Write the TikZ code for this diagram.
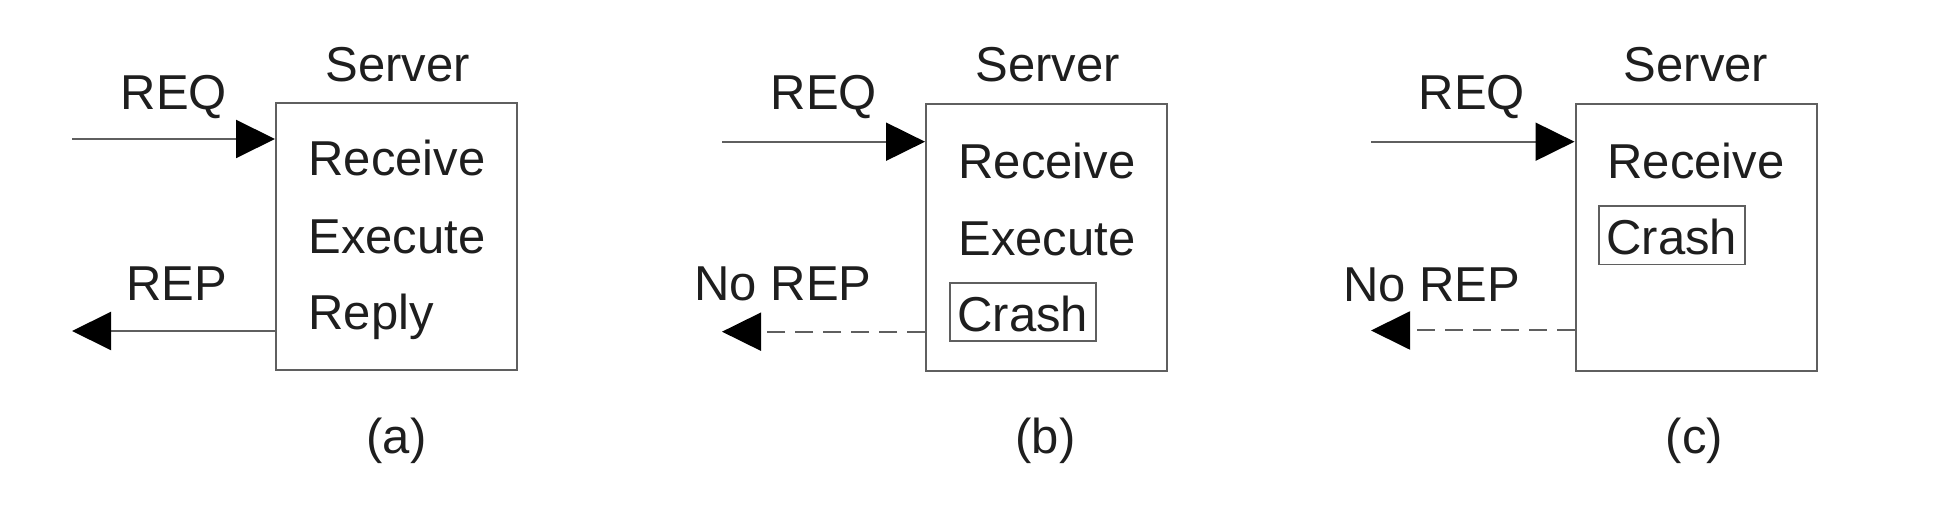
\documentclass[tikz,border=0pt]{standalone}
\usepackage{fontspec}
\setmainfont{Liberation Sans}
\usetikzlibrary{arrows.meta}
\definecolor{linegray}{RGB}{95,95,95}
\definecolor{ink}{RGB}{30,30,30}
\begin{document}
\begin{tikzpicture}[x=0.5pt,y=-0.5pt,
  lbl/.style={font=\fontsize{24.5}{29}\selectfont, text=ink, inner sep=0pt, anchor=base},
  item/.style={lbl, anchor=base west},
  srvbox/.style={draw=linegray, line width=1pt, minimum width=120.5pt, minimum height=133.5pt, anchor=north west, inner sep=0pt},
  crashbox/.style={item, draw=linegray, line width=0.9pt, inner xsep=3.8pt, inner ysep=0pt, text height=24.3pt, text depth=4.8pt},
  msg/.style={draw=linegray, line width=1pt, -{Triangle[length=19.5pt,width=19pt,color=black]}},
  nomsg/.style={msg, dash pattern=on 9pt off 5pt},
]
\useasboundingbox (0,0) rectangle (1936,512);

% ---------- panel (a) ----------
\node[srvbox] (boxa) at (275,102) {};
\node[lbl] (srva) at (397.5,82) {Server};
\node[item] (rcva) at (308,176) {Receive};
\node[item] (exea) at (308,254) {Execute};
\node[item] (rpla) at (308,330) {Reply};
\node[lbl] (reqa) at (174,110) {REQ};
\node[lbl] (repa) at (176.5,301) {REP};
\node[lbl] (capa) at (396.5,453) {(a)};
\coordinate (ina) at (72,139);
\coordinate (outa) at (72,331);
\draw[msg] (ina) -- (ina -| boxa.west);
\draw[msg] (outa -| boxa.west) -- (outa);

% ---------- panel (b) ----------
\node[srvbox] (boxb) at (925,103) {};
\node[lbl] (srvb) at (1047.5,82) {Server};
\node[item] (rcvb) at (958,179) {Receive};
\node[item] (exeb) at (958,256) {Execute};
\node[crashbox] (crb) at (949,331.7) {Crash};
\node[lbl] (reqb) at (824,110) {REQ};
\node[lbl] (norepb) at (783,301) {No REP};
\node[lbl] (capb) at (1045.5,453) {(b)};
\coordinate (inb) at (722,141.7);
\coordinate (outb) at (722,331.7);
\draw[msg] (inb) -- (inb -| boxb.west);
\draw[nomsg] (outb -| boxb.west) -- (outb);

% ---------- panel (c) ----------
\node[srvbox] (boxc) at (1574.5,103) {};
\node[lbl] (srvc) at (1696,82) {Server};
\node[item] (rcvc) at (1607,179) {Receive};
\node[crashbox] (crc) at (1598,255) {Crash};
\node[lbl] (reqc) at (1472,110) {REQ};
\node[lbl] (norepc) at (1431.5,302) {No REP};
\node[lbl] (capc) at (1694.5,453) {(c)};
\coordinate (inc) at (1371,141.7);
\coordinate (outc) at (1371,330.5);
\draw[msg] (inc) -- (inc -| boxc.west);
\draw[nomsg] (outc -| boxc.west) -- (outc);
\end{tikzpicture}
\end{document}
